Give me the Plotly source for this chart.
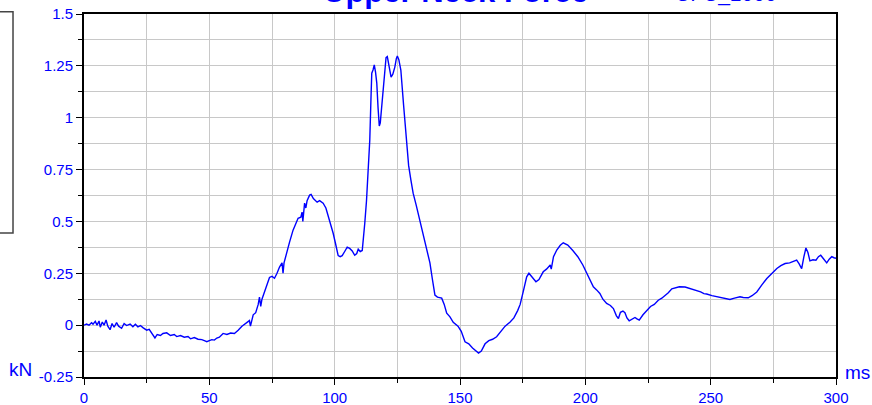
import plotly.graph_objects as go

# Upper neck force trace (time in ms, force in kN)
time_ms = [0, 1, 2, 3, 3.6, 4.5, 5.2, 6, 6.5, 7.3, 8, 8.8, 9.5, 10.4, 11.2, 12, 13, 13.8, 15, 16, 17,
           18.4, 19.5, 20.5, 21.5, 22.5, 23.5, 25, 26, 27, 28.3, 29.2, 30.5, 31.5, 33, 34.5, 36, 37,
           38.5, 40, 41.5, 42.5, 44, 45.5, 47, 48, 49, 50, 51, 52, 53, 54, 55.5, 57, 58.5, 60, 61.5,
           63, 64, 65, 66, 66.4, 66.8, 67.5, 68.5, 69.5, 70, 70.5, 71, 72, 73, 74, 75, 76, 77, 78, 79,
           79.4, 79.8, 81, 82, 83.4, 84.5, 85.4, 86.5, 87, 87.3, 87.6, 88, 88.5, 89, 90, 90.6, 91.5,
           92.5, 93, 94, 95.4, 96.5, 97.4, 98.4, 99.4, 100.4, 101.4, 102.2, 103, 104, 105, 106, 107,
           108, 108.8, 109.4, 110.2, 111, 111.6, 112, 112.7, 113.4, 114, 114.5, 114.8, 115.3, 115.8,
           116.3, 116.8, 117.3, 117.8, 118.2, 118.7, 119.3, 119.9, 120.5, 121, 121.6, 122.5, 123.2,
           124, 124.6, 125, 125.6, 126.4, 127.5, 128.7, 129.5, 130.4, 131.3, 132.5, 134, 135.5,
           136.8, 138, 139, 140, 141, 142.7, 143.7, 144.7, 146, 147.3, 149.2, 150.5, 152, 153.5, 155,
           156.5, 157.4, 158.5, 160, 161.5, 163, 164.6, 166.5, 168, 170, 171.5, 173, 174, 175.2,
           176.6, 177.5, 178.5, 180.3, 181.5, 183.2, 184.5, 186, 186.4, 187.3, 188.6, 190, 191.2,
           192.2, 193, 195, 197, 199, 200.5, 201.5, 203.2, 204.5, 205.8, 207, 208.5, 210, 211.2,
           212.4, 213.2, 214, 215, 215.8, 216.6, 217.5, 218.7, 219.8, 220.6, 221.5, 223, 224.5, 226,
           227.5, 229.1, 230.5, 232, 233.1, 234.5, 235.8, 237.5, 239.8, 241.5, 243, 244.5, 246,
           247.3, 248.4, 250.5, 252.4, 254, 255.5, 257.7, 259.5, 261.7, 263, 265, 266.5, 268.4,
           270.5, 272.4, 274.5, 276.4, 278, 279.7, 281.5, 283, 284.3, 285.3, 286.3, 287.2, 288,
           288.8, 289.6, 290.8, 292, 293, 293.9, 295, 296.3, 297.3, 298.3, 299.2, 300]

force_kn = [0.0, 0.005, 0.0, 0.012, 0.005, 0.018, 0.0, 0.02, -0.01, 0.015, 0.0, 0.025, -0.005, -0.022,
            0.008, -0.01, 0.012, -0.005, -0.015, 0.008, -0.002, 0.005, -0.008, 0.004, -0.008, -0.002,
            -0.012, -0.024, -0.02, -0.04, -0.062, -0.045, -0.05, -0.04, -0.037, -0.05, -0.045,
            -0.055, -0.05, -0.058, -0.055, -0.066, -0.06, -0.068, -0.07, -0.075, -0.08, -0.075,
            -0.07, -0.072, -0.062, -0.058, -0.04, -0.045, -0.038, -0.04, -0.025, -0.005, 0.005,
            0.012, 0.022, -0.005, 0.02, 0.05, 0.06, 0.1, 0.135, 0.09, 0.125, 0.16, 0.2, 0.23, 0.235,
            0.226, 0.25, 0.28, 0.30, 0.25, 0.30, 0.36, 0.40, 0.458, 0.49, 0.515, 0.52, 0.545, 0.5,
            0.56, 0.588, 0.565, 0.6, 0.627, 0.63, 0.61, 0.6, 0.593, 0.6, 0.588, 0.565, 0.53, 0.49,
            0.443, 0.39, 0.335, 0.33, 0.335, 0.355, 0.376, 0.37, 0.358, 0.337, 0.345, 0.366, 0.355,
            0.36, 0.42, 0.49, 0.6, 0.747, 0.89, 1.1, 1.215, 1.23, 1.255, 1.22, 1.167, 1.05, 0.96,
            0.975, 1.05, 1.133, 1.23, 1.29, 1.295, 1.25, 1.196, 1.21, 1.244, 1.285, 1.297, 1.28,
            1.23, 1.06, 0.86, 0.77, 0.7, 0.636, 0.58, 0.506, 0.43, 0.362, 0.30, 0.22, 0.145, 0.135,
            0.13, 0.1, 0.058, 0.04, 0.014, -0.005, -0.03, -0.08, -0.09, -0.11, -0.128, -0.135,
            -0.125, -0.09, -0.075, -0.068, -0.056, -0.03, -0.005, 0.015, 0.035, 0.07, 0.1, 0.16,
            0.233, 0.25, 0.235, 0.209, 0.22, 0.257, 0.27, 0.29, 0.27, 0.33, 0.362, 0.385, 0.397,
            0.392, 0.386, 0.36, 0.33, 0.29, 0.25, 0.225, 0.185, 0.17, 0.153, 0.125, 0.105, 0.095,
            0.08, 0.045, 0.032, 0.062, 0.068, 0.06, 0.035, 0.021, 0.03, 0.037, 0.03, 0.024, 0.05,
            0.072, 0.09, 0.1, 0.12, 0.13, 0.145, 0.156, 0.175, 0.18, 0.185, 0.184, 0.178, 0.17,
            0.165, 0.16, 0.152, 0.15, 0.142, 0.138, 0.135, 0.13, 0.124, 0.13, 0.137, 0.133, 0.132,
            0.142, 0.16, 0.195, 0.225, 0.25, 0.273, 0.287, 0.297, 0.3, 0.305, 0.313, 0.295, 0.272,
            0.33, 0.372, 0.35, 0.31, 0.315, 0.313, 0.33, 0.337, 0.32, 0.30, 0.318, 0.33, 0.325,
            0.322]

x_ticks = [0, 50, 100, 150, 200, 250, 300]
y_ticks = [-0.25, 0, 0.25, 0.5, 0.75, 1, 1.25, 1.5]
y_tick_text = ["-0.25", "0", "0.25", "0.5", "0.75", "1", "1.25", "1.5"]

BLUE = "#0000ff"
FONT = "Liberation Sans, Arial, sans-serif"

fig = go.Figure()
fig.add_trace(go.Scatter(x=time_ms, y=force_kn, mode="lines",
                         line=dict(color=BLUE, width=1.4), showlegend=False))

fig.update_xaxes(range=[0, 300], tickvals=x_ticks, ticks="outside", ticklen=6,
                 tickcolor="black", showline=True, linecolor="black", linewidth=1.5,
                 mirror=True, showgrid=True, gridcolor="#c8c8c8", gridwidth=1, zeroline=False,
                 automargin=False, tickfont=dict(color=BLUE, size=15, family=FONT),
                 minor=dict(dtick=25, ticks="outside", ticklen=4, tickcolor="black",
                            showgrid=True, gridcolor="#c8c8c8"))
fig.update_yaxes(range=[-0.25, 1.5], tickvals=y_ticks, ticktext=y_tick_text,
                 ticks="outside", ticklen=6, tickcolor="black", showline=True,
                 linecolor="black", linewidth=2, mirror=True, showgrid=True,
                 gridcolor="#c8c8c8", gridwidth=1, zeroline=False, automargin=False,
                 tickfont=dict(color=BLUE, size=15, family=FONT),
                 minor=dict(dtick=0.125, tick0=0, ticks="outside", ticklen=4,
                            tickcolor="black", showgrid=True, gridcolor="#c8c8c8"))

# titles and unit labels (the titles sit mostly above the visible page)
fig.add_annotation(text="<b>Upper Neck Force</b>", xref="paper", yref="paper", x=0.494, y=1.062,
                   showarrow=False, yanchor="middle", font=dict(color=BLUE, size=31, family=FONT))
fig.add_annotation(text="CFC_1000", xref="paper", yref="paper", x=0.924, y=1.055,
                   showarrow=False, yanchor="middle", font=dict(color=BLUE, size=21, family=FONT))
fig.add_annotation(text="kN", xref="paper", yref="paper", x=-0.085, y=0.02,
                   showarrow=False, xanchor="center", yanchor="middle",
                   font=dict(color=BLUE, size=19, family=FONT))
fig.add_annotation(text="ms", xref="paper", yref="paper", x=1.029, y=0.012,
                   showarrow=False, xanchor="center", yanchor="middle",
                   font=dict(color=BLUE, size=19, family=FONT))

# partially visible box at the left edge
fig.add_shape(type="rect", xref="paper", yref="paper", x0=-0.3, x1=-0.0944, y0=0.397, y1=1.006,
              line=dict(color="#444444", width=1.5), fillcolor="rgba(0,0,0,0)")

fig.update_layout(width=872, height=405, margin=dict(l=84, r=36, t=14, b=28),
                  plot_bgcolor="white", paper_bgcolor="white", font=dict(family=FONT))

fig.write_html("out.html", config={"displayModeBar": False},
               post_script="document.body.style.margin='0px';")
